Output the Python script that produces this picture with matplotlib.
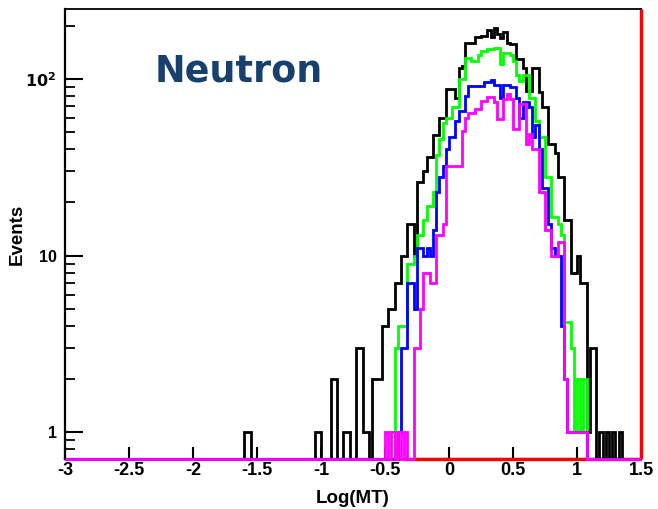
import numpy as np
import matplotlib
matplotlib.use("Agg")
import matplotlib.pyplot as plt
from matplotlib.ticker import FixedLocator, NullFormatter

# binning of the Log(MT) histograms
xlo, xhi, binw = -3.0, 1.5, 0.025

# counts per bin, each series starts at its *_start edge
black_start = -1.6
black_counts = [
    1, 1, 0, 0, 0, 0, 0, 0, 0, 0, 0, 0, 0, 0, 0, 0,   # -1.6 .. -1.2
    0, 0, 0, 0, 0, 0, 1, 1, 0, 0, 0, 2, 2, 0, 0, 1,   # -1.2 .. -0.8
    1, 0, 0, 3, 3, 1, 1, 0, 2, 2, 2, 4, 4, 5, 5, 7,   # -0.8 .. -0.4
    7, 10, 10, 15, 15, 10, 26, 26, 30, 36, 36, 48, 48, 60, 60, 88,   # -0.4 .. 0.0
    88, 88, 78, 115, 118, 160, 160, 160, 172, 172, 175, 175, 190, 172, 195, 180,  # 0.0 .. 0.4
    170, 185, 160, 157, 157, 130, 130, 116, 85, 85, 116, 116, 84, 69, 69, 43,     # 0.4 .. 0.8
    43, 38, 28, 28, 16, 16, 8, 8, 10, 7, 7, 1, 3, 3, 0, 1,   # 0.8 .. 1.2
    0, 1, 0, 1, 0, 1,                                        # 1.2 .. 1.35
]

green_start = -0.425
green_counts = [
    3, 4, 4, 4, 9, 9, 10, 13, 13, 16, 19, 19, 23, 37, 46, 56, 60,   # -0.425 .. 0.0
    60, 69, 69, 100, 100, 132, 132, 126, 126, 137, 144, 144, 147, 147, 150, 150,  # 0.0 .. 0.4
    121, 140, 140, 137, 126, 106, 97, 106, 106, 78, 78, 58, 47, 47, 28, 28,       # 0.4 .. 0.8
    16.5, 16.5, 15, 13, 4.2, 4.2, 3, 1, 2, 1, 2,                                  # 0.8 .. 1.075
]

blue_start = -0.4
blue_counts = [
    1, 3, 3, 7, 7, 5, 11, 11, 10, 11, 10, 14, 23, 28, 32, 40,     # -0.4 .. 0.0
    47, 47, 58, 66, 66, 80, 91, 91, 91, 91, 91, 96, 96, 99, 93, 93,  # 0.0 .. 0.4
    78, 93, 93, 90, 90, 78, 60, 74, 74, 69, 47, 55, 40, 24, 24, 15,  # 0.4 .. 0.8
    11, 10, 10, 4, 2, 1, 1, 1, 1, 1, 1,                              # 0.8 .. 1.075
]

magenta_start = -0.5
magenta_counts = [
    1, 0, 1, 0, 1, 0, 1, 0, 0, 3, 3, 5, 8, 8, 7, 7, 13, 13, 15, 32,  # -0.5 .. 0.0
    32, 32, 32, 32, 51, 60, 64, 64, 68, 68, 75, 75, 79, 79, 74, 59,  # 0.0 .. 0.4
    59, 77, 82, 77, 52, 52, 72, 72, 43, 49, 40, 40, 23, 23, 14, 14,  # 0.4 .. 0.8
    10, 10, 12, 12, 2, 1, 1, 1, 1, 1, 1,                             # 0.8 .. 1.075
]

# empty red histogram, only its outline along the bottom / last edge shows
red_range = (-0.35, 1.5)

ymin, ymax = 0.705, 249.0

edges = np.arange(xlo, xhi + binw / 2, binw)
nbins = len(edges) - 1


def full_hist(start, counts):
    h = np.zeros(nbins)
    i0 = int(round((start - xlo) / binw))
    h[i0:i0 + len(counts)] = counts
    # empty bins sit on the bottom of the log frame, like ROOT does
    return np.maximum(h, ymin)


fig = plt.figure(figsize=(6.58, 5.09), dpi=100)
ax = fig.add_axes([65 / 658, 1 - 459 / 509, 576 / 658, 450 / 509])
ax.set_yscale("log")
ax.set_xlim(xlo, xhi)
ax.set_ylim(ymin, ymax)

lw = 2.0
ax.hlines(ymin, red_range[0], red_range[1], color="#ff0000", lw=2.4,
          clip_on=False, zorder=2.9)
ax.vlines(red_range[1], ymin, ymax, color="#ff0000", lw=2.4,
          clip_on=False, zorder=2.9)
ax.stairs(full_hist(black_start, black_counts), edges, baseline=None,
          color="black", lw=lw, clip_on=False, zorder=3)
ax.stairs(full_hist(green_start, green_counts), edges, baseline=None,
          color="#00ff00", lw=lw, clip_on=False, zorder=4)
ax.stairs(full_hist(blue_start, blue_counts), edges, baseline=None,
          color="#0000ff", lw=lw, clip_on=False, zorder=5)
ax.stairs(full_hist(magenta_start, magenta_counts), edges, baseline=None,
          color="#ff00ff", lw=lw, clip_on=False, zorder=6)

# ROOT style frame and ticks
for s in ax.spines.values():
    s.set_linewidth(1.3)
ax.spines["left"].set_linewidth(1.6)
ax.spines["bottom"].set_linewidth(1.6)

xtick_font = dict(family="Liberation Sans", weight="bold", size=13)
ytick_font = dict(family="Liberation Sans", weight="bold", size=11.5)
ax.xaxis.set_major_locator(FixedLocator(np.arange(-3, 1.51, 0.5)))
ax.set_xticklabels(["-3", "-2.5", "-2", "-1.5", "-1", "-0.5", "0", "0.5", "1", "1.5"],
                   **xtick_font)
ax.yaxis.set_major_locator(FixedLocator([1, 10, 100]))
ax.set_yticklabels(["1", "10", r"$\mathbf{10^{2}}$"], **ytick_font)
minor = [0.8, 0.9] + list(range(2, 10)) + list(range(20, 100, 10)) + [200]
ax.yaxis.set_minor_locator(FixedLocator(minor))
ax.yaxis.set_minor_formatter(NullFormatter())
ax.xaxis.set_minor_locator(FixedLocator([]))
ax.tick_params(axis="both", which="major", direction="in", width=1.5,
               top=False, right=False)
ax.tick_params(axis="y", which="major", length=13, pad=6)
ax.tick_params(axis="x", which="major", length=9, pad=2)
ax.tick_params(axis="y", which="minor", direction="in", length=7, width=1.3,
               right=False)

ax.set_xlabel("Log(MT)", family="Liberation Sans", weight="bold", size=13.5)
ax.xaxis.set_label_coords(0.5, -0.068)
ax.set_ylabel("Events", family="Liberation Sans", weight="bold", size=13.5)
ax.yaxis.set_label_coords(-0.068, 0.5)

ax.text(155 / 658, 1 - 81.7 / 509, "Neutron", transform=fig.transFigure,
        family="DejaVu Sans", weight="bold", size=26.3, color="#17406f",
        ha="left", va="baseline")

fig.savefig("out.png", dpi=100)
